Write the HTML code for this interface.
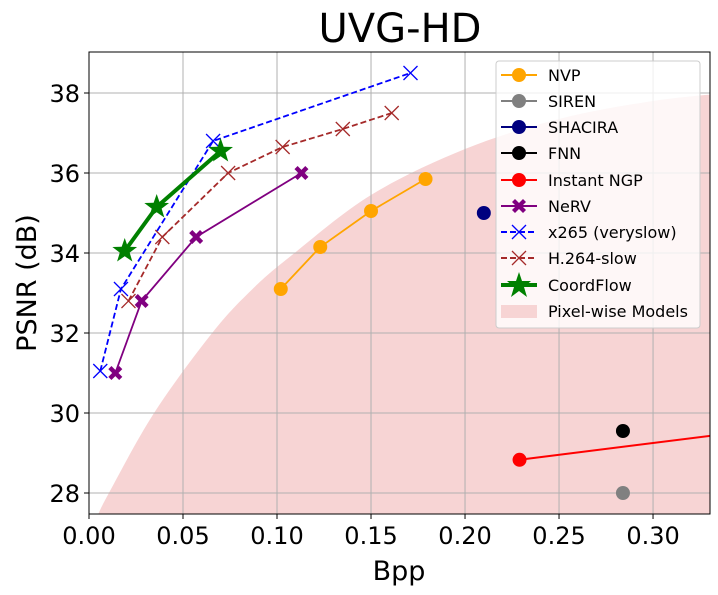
<!DOCTYPE html>
<html><head><meta charset="utf-8"><style>
body{margin:0;background:#fff;}
svg{display:block;font-family:"DejaVu Sans","Liberation Sans",sans-serif;}
</style></head><body>
<svg id="chart" width="718" height="595"></svg>
<script>
const NVP_X=[0.102,0.123,0.150,0.179], NVP_Y=[33.1,34.15,35.05,35.85];
const SIREN_X=[0.284], SIREN_Y=[28.0];
const SHACIRA_X=[0.210], SHACIRA_Y=[35.0];
const FNN_X=[0.284], FNN_Y=[29.55];
const NGP_X=[0.229,0.40], NGP_Y=[28.83,29.84];
const NERV_X=[0.014,0.028,0.057,0.113], NERV_Y=[31.0,32.8,34.4,36.0];
const X265_X=[0.006,0.017,0.066,0.171], X265_Y=[31.05,33.1,36.8,38.5];
const H264_X=[0.021,0.039,0.074,0.103,0.135,0.161], H264_Y=[32.8,34.4,36.0,36.65,37.1,37.5];
const CF_X=[0.019,0.036,0.070], CF_Y=[34.05,35.15,36.55];
const PIX_X=[0.0049,0.0106,0.0346,0.0655,0.087,0.108,0.15,0.20,0.25,0.30,0.34], PIX_Y=[27.47,28.0,30.0,32.0,33.1,33.95,35.45,36.6,37.35,37.8,38.0];
const XTICKS=[0,0.05,0.10,0.15,0.20,0.25,0.30], XLABELS=["0.00","0.05","0.10","0.15","0.20","0.25","0.30"];
const YTICKS=[28,30,32,34,36,38];

const L=89,R=710,T=52,B=514,X0=0,X1=0.3303,Y0=27.475,Y1=39.025;
const sx=v=>L+(v-X0)/(X1-X0)*(R-L), sy=v=>B-(v-Y0)/(Y1-Y0)*(B-T);
const NS="http://www.w3.org/2000/svg", svg=document.getElementById('chart');
function mk(t,a,p){const e=document.createElementNS(NS,t);for(const k in a)e.setAttribute(k,a[k]);(p||svg).appendChild(e);return e;}
const defs=mk('defs',{});const cp=mk('clipPath',{id:'c'},defs);mk('rect',{x:L,y:T,width:R-L,height:B-T},cp);
const plot=mk('g',{'clip-path':'url(#c)'});


const P=PIX_X.map((x,i)=>[sx(x),sy(PIX_Y[i])]);
let d='M'+P[0][0]+','+P[0][1];
for(let i=0;i<P.length-1;i++){const p0=P[Math.max(i-1,0)],p1=P[i],p2=P[i+1],p3=P[Math.min(i+2,P.length-1)];
 d+=` C${p1[0]+(p2[0]-p0[0])/6},${p1[1]+(p2[1]-p0[1])/6} ${p2[0]-(p3[0]-p1[0])/6},${p2[1]-(p3[1]-p1[1])/6} ${p2[0]},${p2[1]}`;}
d+=' L'+sx(0.34)+','+sy(27)+' L'+P[0][0]+','+sy(27)+'Z';
const pa=mk('path',{d:d,fill:'#f7d4d4'},plot);


XTICKS.forEach(v=>{if(v>0)mk('line',{x1:sx(v),x2:sx(v),y1:T,y2:B,stroke:'#b0b0b0','stroke-width':1},plot);});
YTICKS.forEach(v=>mk('line',{x1:L,x2:R,y1:sy(v),y2:sy(v),stroke:'#b0b0b0','stroke-width':1},plot));
function marker(g,type,x,y,c,s){
 if(type==='o')mk('circle',{cx:x,cy:y,r:s,fill:c},g);
 else if(type==='x')mk('path',{d:`M${x-s},${y-s}L${x+s},${y+s}M${x-s},${y+s}L${x+s},${y-s}`,stroke:c,'stroke-width':1.3,fill:'none'},g);
 else if(type==='X'){const a=s,b=s*0.45;mk('path',{d:`M${x-a},${y-a+b}L${x-a+b},${y-a}L${x},${y-b}L${x+a-b},${y-a}L${x+a},${y-a+b}L${x+b},${y}L${x+a},${y+a-b}L${x+a-b},${y+a}L${x},${y+b}L${x-a+b},${y+a}L${x-a},${y+a-b}L${x-b},${y}Z`,fill:c},g);}
 else if(type==='*'){let p='';for(let i=0;i<10;i++){const r=i%2?s*0.4:s,an=-Math.PI/2+i*Math.PI/5;p+=(i?'L':'M')+(x+r*Math.cos(an))+','+(y+r*Math.sin(an));}mk('path',{d:p+'Z',fill:c},g);}
}
function series(name,X,Y,c,type,s,lw,dash){
 const g=mk('g',{},plot);
 
 
 if(X.length>1){const a={points:X.map((x,i)=>sx(x)+','+sy(Y[i])).join(' '),fill:'none',stroke:c,'stroke-width':lw};if(dash)a['stroke-dasharray']=dash;mk('polyline',a,g);}
 X.forEach((x,i)=>marker(g,type,sx(x),sy(Y[i]),c,s));
}
series('series-instant-ngp',NGP_X,NGP_Y,'#ff0000','o',7,2);
series('series-siren',SIREN_X,SIREN_Y,'#808080','o',7,2);
series('series-fnn',FNN_X,FNN_Y,'#000000','o',7,2);
series('series-shacira',SHACIRA_X,SHACIRA_Y,'#00007f','o',7,2);
series('series-nvp',NVP_X,NVP_Y,'#ffa500','o',7,1.8);
series('series-nerv',NERV_X,NERV_Y,'#800080','X',7,1.8);
series('series-h264',H264_X,H264_Y,'#a52a2a','x',7,1.8,'6,3');
series('series-x265',X265_X,X265_Y,'#0000ff','x',7,1.8,'6,3');
series('series-coordflow',CF_X,CF_Y,'#008000','*',13,4);
mk('rect',{x:L,y:T,width:R-L,height:B-T,fill:'none',stroke:'#000','stroke-width':1});
XTICKS.forEach((v,i)=>{mk('line',{x1:sx(v),x2:sx(v),y1:B,y2:B+5,stroke:'#000'});const t=mk('text',{x:sx(v),y:B+30,'font-size':24,'text-anchor':'middle'});t.textContent=XLABELS[i];
 
 });
YTICKS.forEach(v=>{mk('line',{x1:L-5,x2:L,y1:sy(v),y2:sy(v),stroke:'#000'});const t=mk('text',{x:L-9,y:sy(v)+9,'font-size':24,'text-anchor':'end'});t.textContent=v;
 
 });
</script>
<svg width="718" height="595" style="position:absolute;left:0;top:0">
<text x="400" y="42" font-size="40" text-anchor="middle" font-family="DejaVu Sans,Liberation Sans,sans-serif">UVG-HD</text>
<text x="399" y="580" font-size="27" text-anchor="middle" font-family="DejaVu Sans,Liberation Sans,sans-serif">Bpp</text>
<text transform="translate(36,283) rotate(-90)" font-size="27" text-anchor="middle" font-family="DejaVu Sans,Liberation Sans,sans-serif">PSNR (dB)</text>
<g font-family="DejaVu Sans,Liberation Sans,sans-serif" font-size="16">
<rect x="496" y="61" width="204" height="267" rx="3" fill="#fff" fill-opacity="0.8" stroke="#ccc"/>
<g><line x1="501" x2="537" y1="75" y2="75" stroke="#ffa500" stroke-width="2"/><circle cx="519" cy="75" r="7" fill="#ffa500"/><text x="548" y="81">NVP</text></g>
<g><line x1="501" x2="537" y1="101" y2="101" stroke="#808080" stroke-width="2"/><circle cx="519" cy="101" r="7" fill="#808080"/><text x="548" y="107">SIREN</text></g>
<g><line x1="501" x2="537" y1="127" y2="127" stroke="#00007f" stroke-width="2"/><circle cx="519" cy="127" r="7" fill="#00007f"/><text x="548" y="133">SHACIRA</text></g>
<g><line x1="501" x2="537" y1="153" y2="153" stroke="#000" stroke-width="2"/><circle cx="519" cy="153" r="7" fill="#000"/><text x="548" y="159">FNN</text></g>
<g><line x1="501" x2="537" y1="180" y2="180" stroke="#f00" stroke-width="2"/><circle cx="519" cy="180" r="7" fill="#f00"/><text x="548" y="186">Instant NGP</text></g>
<g><line x1="501" x2="537" y1="206" y2="206" stroke="#800080" stroke-width="2"/><path d="M512,202L515,199L519,203L523,199L526,202L522,206L526,210L523,213L519,209L515,213L512,210L516,206Z" fill="#800080"/><text x="548" y="212">NeRV</text></g>
<g><line x1="501" x2="537" y1="232" y2="232" stroke="#00f" stroke-width="2" stroke-dasharray="6,3"/><path d="M512,225L526,239M512,239L526,225" stroke="#00f" stroke-width="1.3"/><text x="548" y="238">x265 (veryslow)</text></g>
<g><line x1="501" x2="537" y1="258" y2="258" stroke="#a52a2a" stroke-width="2" stroke-dasharray="6,3"/><path d="M512,251L526,265M512,265L526,251" stroke="#a52a2a" stroke-width="1.3"/><text x="548" y="264">H.264-slow</text></g>
<g><line x1="501" x2="537" y1="285" y2="285" stroke="#008000" stroke-width="4"/><path d="M519,272L522,281L531,281L524,287L527,297L519,291L511,297L514,287L507,281L516,281Z" fill="#008000"/><text x="548" y="291">CoordFlow</text></g>
<g><rect x="501" y="305" width="36" height="13" fill="#f7d4d4"/><text x="548" y="317">Pixel-wise Models</text></g>
</g>
</svg>
</body></html>
